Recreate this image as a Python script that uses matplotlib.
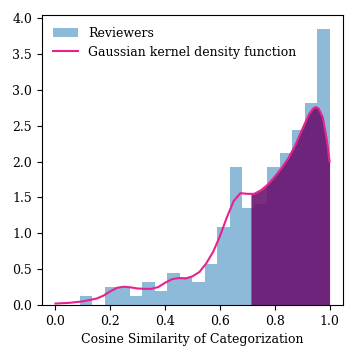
import numpy as np
import matplotlib
matplotlib.use("Agg")
import matplotlib.pyplot as plt

plt.rcParams['font.family'] = ['DejaVu Serif']

# histogram (density): 20 bins between 0.088 and 1.0
bin_lo = 0.088
bin_hi = 1.0
densities = [0.128, 0.0, 0.256, 0.256, 0.128, 0.321, 0.192, 0.449, 0.385, 0.321,
             0.577, 1.09, 1.92, 1.35, 1.41, 1.92, 2.12, 2.44, 2.82, 3.85]

# gaussian kde curve, read at points
kde_x = [0.0, 0.05, 0.10, 0.15, 0.175, 0.20, 0.225, 0.25, 0.275, 0.30, 0.325, 0.35,
         0.375, 0.40, 0.425, 0.45, 0.475, 0.50, 0.525, 0.55, 0.575, 0.60, 0.625,
         0.65, 0.675, 0.70, 0.713, 0.725, 0.75, 0.775, 0.80, 0.825, 0.85, 0.875,
         0.90, 0.925, 0.94, 0.95, 0.96, 0.975, 0.99, 1.0]
kde_y = [0.02, 0.03, 0.05, 0.09, 0.13, 0.19, 0.24, 0.255, 0.245, 0.23, 0.225, 0.225,
         0.25, 0.31, 0.36, 0.375, 0.37, 0.40, 0.46, 0.58, 0.74, 0.96, 1.22,
         1.45, 1.56, 1.55, 1.55, 1.55, 1.60, 1.68, 1.79, 1.91, 2.05, 2.23,
         2.45, 2.66, 2.74, 2.76, 2.74, 2.62, 2.30, 2.00]
fill_from = 0.713

edges = np.linspace(bin_lo, bin_hi, len(densities) + 1)
centers = (edges[:-1] + edges[1:]) / 2

fig = plt.figure(figsize=(3.57, 3.57), dpi=100)
ax = fig.add_axes([0.117, 0.1457, 0.8446, 0.8113])

ax.hist(centers, bins=edges, weights=densities, color='tab:blue', alpha=0.5,
        label='Reviewers')

kx = np.array(kde_x)
ky = np.array(kde_y)
ax.fill_between(kx, ky, where=kx >= fill_from, color='#690f6d', alpha=0.88,
                linewidth=0)
ax.plot(kx, ky, color='#e6238c', linewidth=1.5,
        label='Gaussian kernel density function')

ax.set_xlim(-0.05, 1.05)
ax.set_ylim(0, 4.04)
ax.set_xticks(np.arange(0, 1.01, 0.2))
ax.set_yticks(np.arange(0, 4.01, 0.5))
ax.tick_params(labelsize=9)
ax.set_xlabel('Cosine Similarity of Categorization', fontsize=9)
ax.legend(loc='upper left', frameon=False, fontsize=9)

fig.savefig('out.png', dpi=100)
